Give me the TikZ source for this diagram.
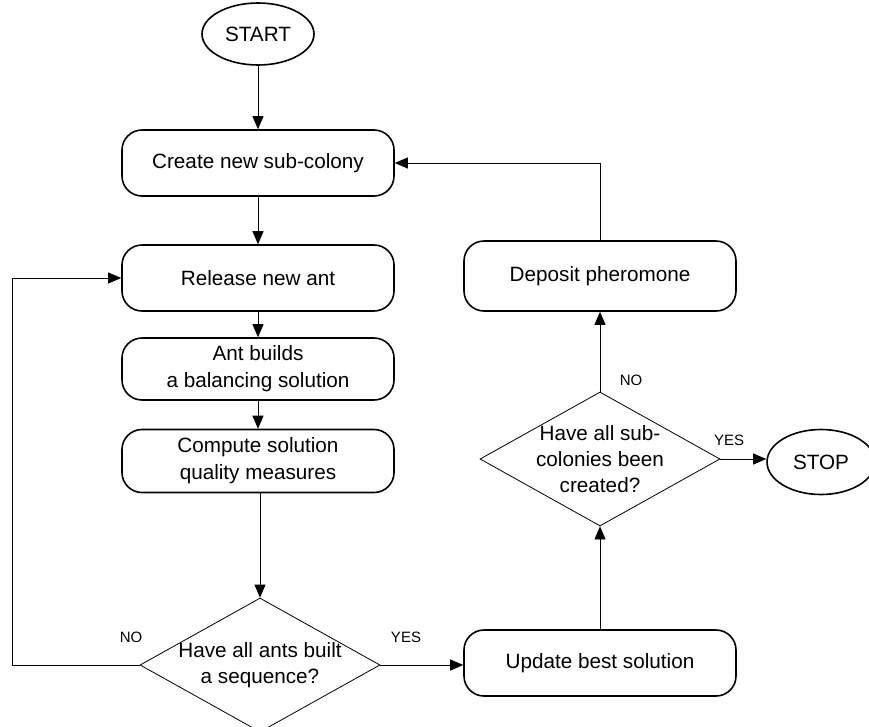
\documentclass[tikz,border=0pt]{standalone}
\usepackage{fontspec}
\setmainfont{Liberation Sans}
\usetikzlibrary{shapes.geometric,arrows.meta}

\begin{document}
\begin{tikzpicture}[x=1pt,y=-1pt,
  proc/.style={draw, line width=1.6pt, rounded corners=20pt, minimum width=272pt,
    minimum height=66pt, align=center, inner sep=0pt,
    font=\fontsize{20.7}{27}\selectfont},
  term/.style={draw, line width=1.6pt, ellipse, minimum width=112pt,
    minimum height=62pt, inner sep=0pt, font=\fontsize{20.7}{25}\selectfont},
  decision/.style={draw, line width=0.8pt, diamond, minimum width=240pt,
    minimum height=134pt, inner sep=0pt},
  dtext/.style={align=center, inner sep=0pt, font=\fontsize{20.7}{26}\selectfont},
  lbl/.style={inner sep=0pt, font=\fontsize{15}{18}\selectfont},
  flow/.style={line width=0.8pt, -{Triangle[length=13pt,width=11pt]}},
]
\useasboundingbox (0,0) rectangle (869,726);
\clip (0,0) rectangle (869,726);

% left column: building one sub-colony
\node[term] (start) at (258,34) {START};
\node[proc] (create) at (258,163) {Create new sub-colony};
\node[proc] (release) at (258,278) {Release new ant};
\node[proc, minimum height=62pt] (build) at (258,369) {Ant builds\\a balancing solution};
\node[proc, minimum height=63pt] (quality) at (258,461) {Compute solution\\quality measures};
\node[decision] (allants) at (260,665) {};
\node[dtext] (allantst) at (allants) {Have all ants built\\a sequence?};

% right column: closing a sub-colony
\node[proc] (update) at (600,663) {Update best solution};
\node[decision] (allsub) at (600,459) {};
\node[dtext] (allsubt) at (allsub) {Have all sub-\\colonies been\\created?};
\node[proc, minimum height=70pt] (deposit) at (600,276) {Deposit pheromone};
\node[term, minimum width=108pt, minimum height=65pt] (stop) at (821,462) {STOP};

\coordinate (loop) at (12,665);

% connectors
\draw[flow] (start) -- (create);
\draw[flow] (create) -- (release);
\draw[flow] (release) -- (build);
\draw[flow] (build) -- (quality);
\draw[flow] (quality.south -| allants.north) -- (allants.north);
\draw[flow] (allants.west) -- (loop) |- (release.west);
\draw[flow] (allants.east) -- (allants.east -| update.west);
\draw[flow] (update) -- (allsub);
\draw[flow] (allsub) -- (deposit);
\draw[flow] (allsub.east) -- (allsub.east -| stop.west);
\draw[flow] (deposit.north) |- (create.east);

% branch labels
\node[lbl] (noa) at (131,637) {NO};
\node[lbl] (yesa) at (406,637) {YES};
\node[lbl] (nob) at (631,380) {NO};
\node[lbl] (yesb) at (729,440) {YES};
\end{tikzpicture}
\end{document}
